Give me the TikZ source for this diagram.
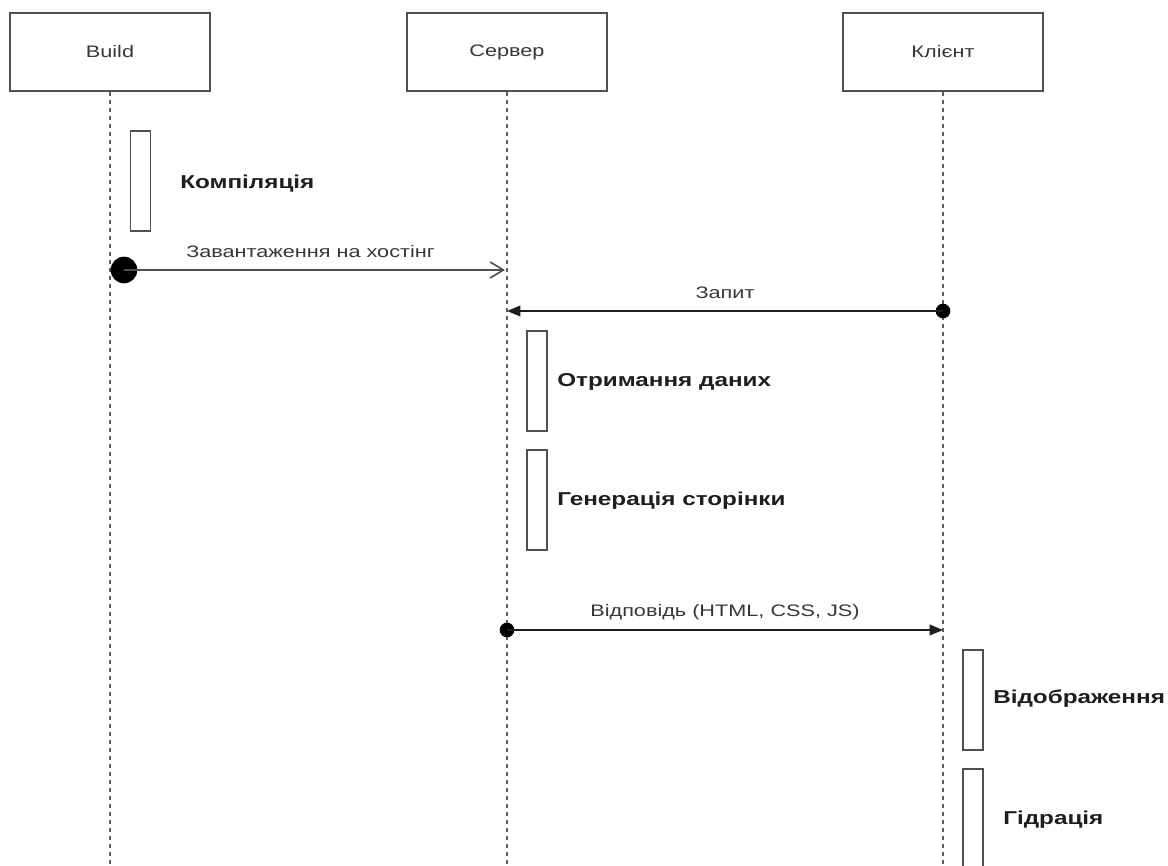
\documentclass[tikz,border=0pt]{standalone}
\usepackage{xcolor}
\usepackage{fontspec}
\setmainfont[FakeStretch=1.3]{Liberation Sans}
\usepackage{tikz}
\usetikzlibrary{arrows.meta, positioning}
\definecolor{mydark}{RGB}{30,30,30}
\definecolor{mytext}{RGB}{55,55,55}
\definecolor{mgframe}{RGB}{80,80,80}
\definecolor{lifegray}{RGB}{95,95,95}
\tikzset{
  actor/.style={rectangle, draw=mgframe, fill=white,
    minimum width=150pt, minimum height=58.5pt,
    font=\fontsize{12.5}{14}\selectfont, text=mytext, line width=1pt},
  actbar/.style={rectangle, draw=mgframe, fill=white,
    minimum width=15pt, minimum height=75pt, inner sep=0pt, line width=1pt},
  steplbl/.style={anchor=west, inner sep=0pt,
    font=\bfseries\fontsize{14}{16}\selectfont, text=mydark},
  msglbl/.style={inner sep=0pt, font=\fontsize{12.5}{14}\selectfont, text=mytext},
  lifeline/.style={dash pattern=on 3pt off 3pt, color=lifegray, line width=0.9pt},
  bigdot/.style={circle, fill=black, inner sep=0pt, minimum size=20pt},
  smalldot/.style={circle, fill=black, inner sep=0pt, minimum size=11pt},
  arrow/.style={-{Triangle[length=10pt, width=8pt]}, line width=1.2pt, color=mydark},
  openarrow/.style={-{Straight Barb[length=10pt, width=12pt]}, line width=1.2pt, color=mgframe}
}
\begin{document}
\begin{tikzpicture}[x=0.75pt, y=-0.75pt]
  \useasboundingbox (0,0) rectangle (1168,866);
  % Participants
  \node[actor] (build) at (110,52) {Build};
  \node[actor] (server) at (507,52) {Сервер};
  \node[actor] (client) at (943,52) {Клієнт};

  % Lifelines
  \coordinate (buildend) at (110,866);
  \coordinate (serverend) at (507,866);
  \coordinate (clientend) at (943,866);
  \draw[lifeline] (build.south) -- (buildend);
  \draw[lifeline] (server.south) -- (serverend);
  \draw[lifeline] (client.south) -- (clientend);

  % Build activity
  \node[actbar] (compile) at (140.5,181) {};
  \node[steplbl] (compiletxt) at (180,184) {Компіляція};

  % Upload to hosting
  \node[bigdot] (uploaddot) at (124,270) {};
  \coordinate (uploadend) at (505,270);
  \draw[openarrow] (uploaddot.center) -- (uploadend)
    node[msglbl, midway, xshift=-3pt, yshift=13.5pt] {Завантаження на хостінг};

  % Request
  \node[smalldot] (reqdot) at (943,311) {};
  \coordinate (reqend) at (507,311);
  \draw[arrow] (reqdot.center) -- (reqend)
    node[msglbl, midway, yshift=13.5pt] {Запит};

  % Server activities
  \node[actbar] (fetch) at (537,381) {};
  \node[steplbl] (fetchtxt) at (557,382) {Отримання даних};
  \node[actbar] (render) at (537,500) {};
  \node[steplbl] (rendertxt) at (557,501) {Генерація сторінки};

  % Response
  \node[smalldot] (respdot) at (507,630) {};
  \coordinate (respend) at (943,630);
  \draw[arrow] (respdot.center) -- (respend)
    node[msglbl, midway, yshift=13.5pt] {Відповідь (HTML, CSS, JS)};

  % Client activities
  \node[actbar] (display) at (973,700) {};
  \node[steplbl] (displaytxt) at (993,699) {Відображення};
  \node[actbar] (hydrate) at (973,819) {};
  \node[steplbl] (hydratetxt) at (1003,820) {Гідрація};
\end{tikzpicture}
\end{document}
